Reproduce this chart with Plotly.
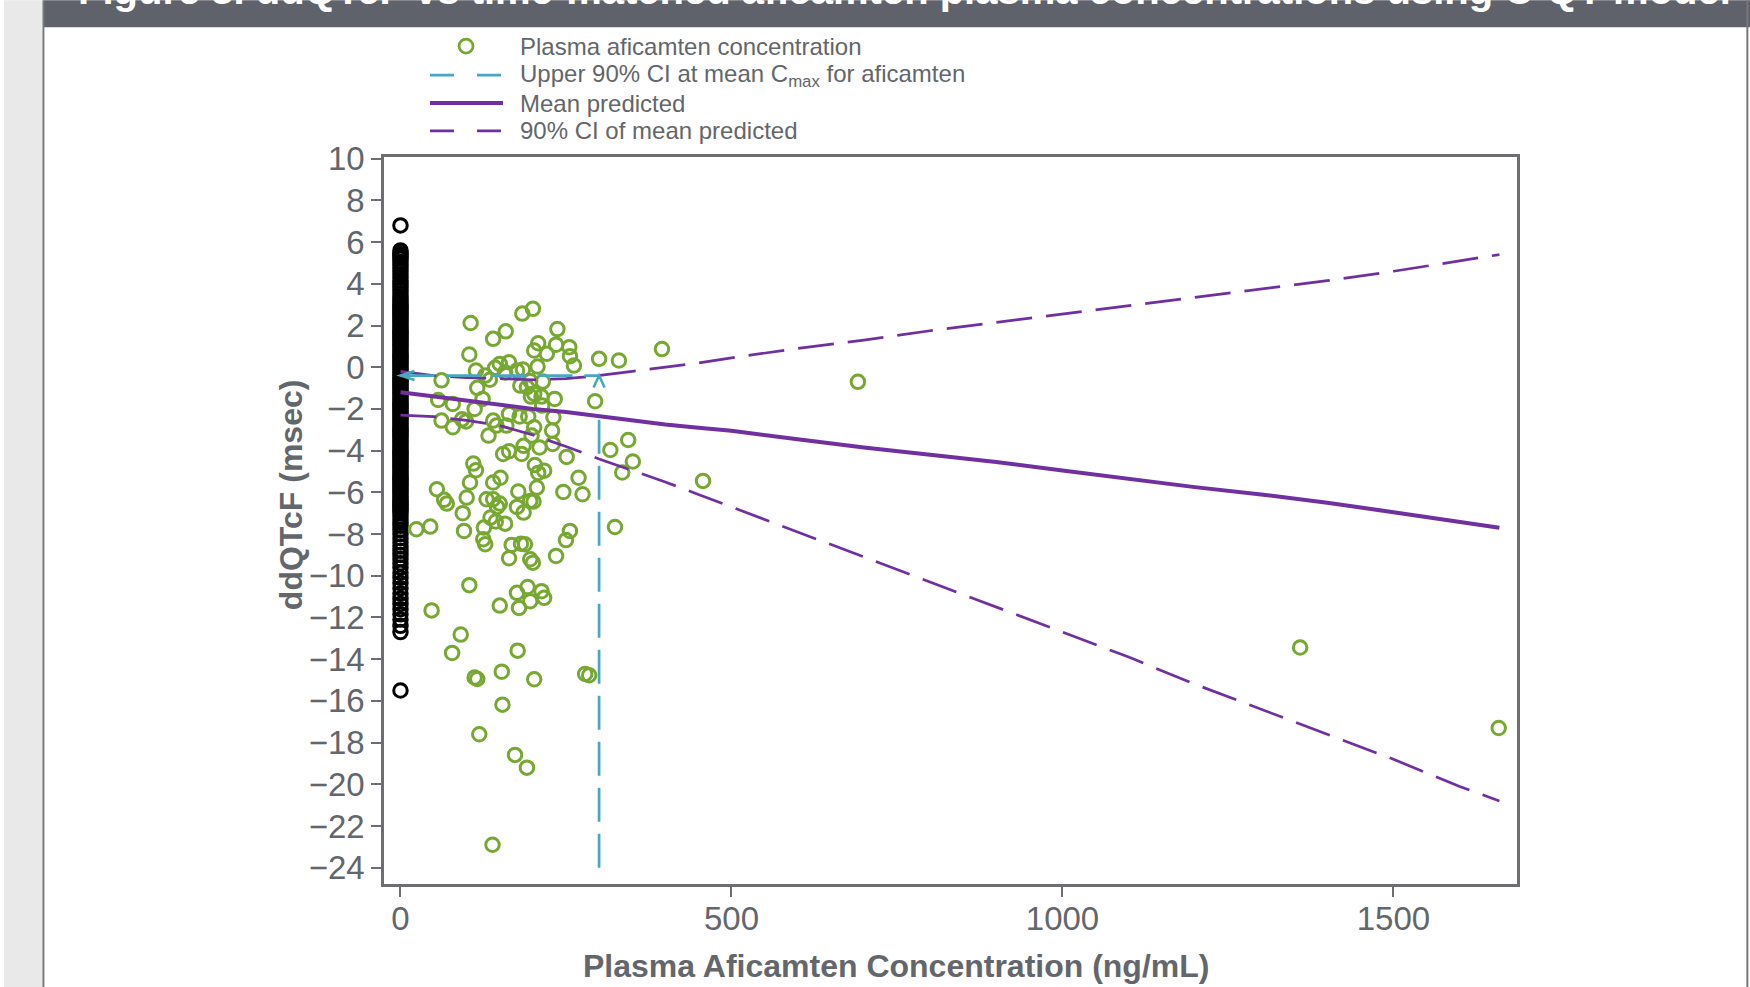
import plotly.graph_objects as go

# ---------------- data ----------------
placebo_y = [6.8, 5.6, 5.5, 5.4, 5.3, 5.2, 5.05, 4.9, 4.75, 4.6, 4.45, 4.3, 4.15, 4.0, 3.85, 3.7,
             3.55, 3.4, 3.3, 3.2, 3.1, 3.0,
             2.9, 2.8, 2.7, 2.6, 2.5, 2.4, 2.3, 2.2, 2.1, 2.0, 1.9, 1.8, 1.7, 1.6, 1.5, 1.4, 1.3,
             1.2, 1.1, 1.0, 0.9, 0.8, 0.7, 0.6, 0.5, 0.4, 0.3, 0.2, 0.1, 0.0, -0.1, -0.2, -0.3,
             -0.4, -0.5, -0.6, -0.7, -0.8, -0.9, -1.0, -1.1, -1.2, -1.3, -1.4, -1.5, -1.6, -1.7,
             -1.8, -1.9, -2.0, -2.1, -2.2, -2.3, -2.4, -2.5, -2.6, -2.7, -2.8, -2.9, -3.0, -3.1,
             -3.2, -3.3, -3.4, -3.5, -3.6, -3.7, -3.8, -3.9, -4.0, -4.1, -4.2, -4.3, -4.4, -4.5,
             -4.6, -4.7, -4.8, -4.9, -5.0, -5.1, -5.2, -5.3, -5.4, -5.5, -5.6, -5.7, -5.8, -5.9,
             -6.0, -6.1, -6.2, -6.3, -6.4, -6.5, -6.6, -6.7, -6.8, -6.9, -7.0,
             -7.15, -7.3, -7.45, -7.6, -7.8, -8.0, -8.2, -8.4, -8.6, -8.8, -9.0, -9.2, -9.4,
             -9.6, -9.85, -10.1, -10.35, -10.6, -10.85, -11.1, -11.35, -11.6, -11.85, -12.1,
             -12.4, -12.7, -15.5]

afi_conc = [106, 184, 200, 159, 140, 237, 104, 208, 202, 221, 235, 255, 256, 262, 300, 330, 395,
            114, 143, 128, 150, 164, 135, 158, 176, 185, 207, 196, 215, 181, 191, 62, 116, 124,
            57, 79, 112, 62, 79, 99, 93, 197, 202, 213, 214, 233, 294, 164, 180, 193, 231, 140,
            145, 160, 202, 229, 133, 198, 230, 186, 210, 155, 164, 183, 203, 251, 317, 344, 351,
            335, 457, 110, 114, 151, 140, 208, 217, 269, 105,
            55, 66, 70, 100, 94, 24, 45, 96, 130, 140, 150, 146, 178, 206, 176, 186, 196, 201,
            246, 275, 136, 144, 158, 126, 125, 128, 168, 182, 188, 164, 196, 200, 235, 250, 256,
            324, 104, 47, 150, 176, 192, 179, 196, 213, 217, 91, 78, 177, 112, 116, 153, 202,
            279, 285, 154, 119, 173, 191, 139, 691, 1359, 1659]
afi_ddqtcf = [2.12, 2.57, 2.8, 1.72, 1.36, 1.83, 0.61, 1.15, 0.8, 0.64, 1.08, 0.96, 0.53, 0.08,
              0.4, 0.32, 0.87, -0.16, -0.03, -0.4, 0.16, 0.24, -0.6, -0.25, -0.16, -0.11, 0.03,
              -0.66, -0.69, -0.88, -0.96, -0.63, -0.99, -1.52, -1.57, -1.76, -2.0, -2.56, -2.88,
              -2.6, -2.5, -1.41, -1.28, -1.41, -1.84, -1.52, -1.63, -2.24, -2.36, -2.36, -2.4,
              -2.56, -2.8, -2.8, -2.88, -3.04, -3.28, -3.28, -3.68, -3.77, -3.85, -4.16, -4.03,
              -4.16, -4.69, -4.3, -3.97, -3.49, -4.52, -5.05, -5.45, -4.62, -4.94, -5.3, -5.53,
              -5.07, -4.96, -5.3, -5.53,
              -5.85, -6.36, -6.54, -6.25, -7.0, -7.77, -7.64, -7.85, -6.33, -6.33, -6.54, -6.7,
              -5.96, -5.77, -6.7, -6.97, -6.41, -6.44, -5.98, -6.09, -7.21, -7.4, -7.5, -7.69,
              -8.25, -8.49, -8.52, -8.46, -8.49, -9.16, -9.21, -9.37, -9.05, -8.29, -7.85, -7.66,
              -10.45, -11.66, -11.43, -10.82, -10.54, -11.54, -11.22, -10.74, -11.06, -12.82,
              -13.7, -13.59, -14.88, -14.95, -14.6, -14.96, -14.71, -14.77, -16.18, -17.6,
              -18.59, -19.2, -22.9, -0.7, -13.44, -17.3]

pred_conc = [0, 25, 50, 100, 150, 200, 250, 300, 350, 400, 450, 500, 600, 700, 800, 900, 1000,
             1100, 1200, 1300, 1400, 1500, 1600, 1660]
pred_mean = [-1.2, -1.3, -1.4, -1.6, -1.8, -2.0, -2.15, -2.35, -2.55, -2.75, -2.9, -3.05, -3.45,
             -3.85, -4.2, -4.55, -4.95, -5.35, -5.75, -6.1, -6.5, -6.95, -7.4, -7.7]
pred_upper = [-0.2, -0.3, -0.4, -0.5, -0.55, -0.6, -0.55, -0.4, -0.2, 0.0, 0.2, 0.45, 0.9, 1.3,
              1.75, 2.15, 2.55, 2.95, 3.35, 3.75, 4.15, 4.6, 5.1, 5.4]
pred_lower = [-2.3, -2.32, -2.37, -2.55, -2.8, -3.25, -3.8, -4.4, -4.95, -5.5, -6.1, -6.7, -7.9,
              -9.1, -10.3, -11.5, -12.7, -13.9, -15.2, -16.4, -17.6, -18.8, -20.1, -20.8]

cmax_conc = 300
cmax_upper = -0.4
cmax_vline_y = [-24.0, -2.35]

x_ticks = [0, 500, 1000, 1500]
y_ticks = list(range(-24, 11, 2))

legend_labels = ["Plasma aficamten concentration",
                 "Upper 90% CI at mean C<sub>max</sub> for aficamten",
                 "Mean predicted",
                 "90% CI of mean predicted"]

title_text = "Figure 3. ddQTcF vs time-matched aficamten plasma concentrations using C-QT model"
x_title = "Plasma Aficamten Concentration (ng/mL)"
y_title = "ddQTcF (msec)"

# ---------------- styles ----------------
GREEN = "#76a832"
PURPLE = "#7030a0"
CYAN = "#48a7c2"
GREY_TXT = "#63666a"
AXIS = "#6d6e71"
FONT = "Liberation Sans, Arial, sans-serif"

W, H = 1750, 987
L, R, T, B = 384, 1516.7, 156.7, 884


def px(xp):
    return (xp - L) / (R - L)


def py(yp):
    return (B - yp) / (B - T)


fig = go.Figure()

MSIZE, MLW = 13.5, 3.0
fig.add_trace(go.Scatter(x=[0] * len(placebo_y), y=placebo_y, mode="markers",
                         marker=dict(symbol="circle-open", size=MSIZE, color="#000000",
                                     line=dict(width=MLW)),
                         showlegend=False, hoverinfo="skip"))
fig.add_trace(go.Scatter(x=afi_conc, y=afi_ddqtcf, mode="markers",
                         marker=dict(symbol="circle-open", size=MSIZE, color=GREEN,
                                     line=dict(width=MLW)),
                         showlegend=False))
fig.add_trace(go.Scatter(x=pred_conc, y=pred_upper, mode="lines",
                         line=dict(color=PURPLE, width=2.7, dash="36px,14px"), showlegend=False))
fig.add_trace(go.Scatter(x=pred_conc, y=pred_lower, mode="lines",
                         line=dict(color=PURPLE, width=2.7, dash="36px,14px"), showlegend=False))
fig.add_trace(go.Scatter(x=pred_conc, y=pred_mean, mode="lines",
                         line=dict(color=PURPLE, width=4), showlegend=False))
fig.add_trace(go.Scatter(x=[0, cmax_conc], y=[cmax_upper, cmax_upper], mode="lines",
                         line=dict(color=CYAN, width=2.7, dash="34px,12px"), showlegend=False))
fig.add_trace(go.Scatter(x=[cmax_conc, cmax_conc], y=cmax_vline_y, mode="lines",
                         line=dict(color=CYAN, width=2.7, dash="34px,12px"), showlegend=False))

annotations = []
# title (cut off at the top as in the reference)
annotations.append(dict(x=px(76), y=py(14), xref="paper", yref="paper", xanchor="left",
                        yanchor="bottom", text="<b>" + title_text + "</b>", showarrow=False,
                        font=dict(family=FONT, size=40, color="#ffffff")))

# axis titles (offset from the plot centre, as in the reference)
annotations.append(dict(x=px(896), y=py(966), xref="paper", yref="paper", xanchor="center",
                        yanchor="middle", text="<b>" + x_title + "</b>", showarrow=False,
                        font=dict(family=FONT, size=32, color=GREY_TXT)))
annotations.append(dict(x=px(291), y=py(494), xref="paper", yref="paper", xanchor="center",
                        yanchor="middle", text="<b>" + y_title + "</b>", showarrow=False,
                        textangle=-90, font=dict(family=FONT, size=32, color=GREY_TXT)))

# manual legend
rows_y = [45.8, 74.8, 102.7, 130.6]
for lab, ry in zip(legend_labels, rows_y):
    annotations.append(dict(x=px(518), y=py(ry), xref="paper", yref="paper", xanchor="left",
                            yanchor="middle", text=lab, showarrow=False,
                            font=dict(family=FONT, size=24, color=GREY_TXT)))

shapes = []
# arrow heads: anchored at the data points, sized in pixels
shapes.append(dict(type="path", xref="x", yref="y", xsizemode="pixel", ysizemode="pixel",
                   xanchor=0, yanchor=cmax_upper, path="M14,4.5 L0,0 L14,-4.5",
                   line=dict(color=CYAN, width=2.6)))
shapes.append(dict(type="path", xref="x", yref="y", xsizemode="pixel", ysizemode="pixel",
                   xanchor=cmax_conc, yanchor=cmax_upper, path="M-5.5,-12 L0,0 L5.5,-12",
                   line=dict(color=CYAN, width=2.6)))
# page decorations
shapes.append(dict(type="rect", xref="paper", yref="paper", x0=px(4), x1=px(42), y0=py(H),
                   y1=py(0), fillcolor="#e9e9e9", line=dict(width=0), layer="below"))
shapes.append(dict(type="line", xref="paper", yref="paper", x0=px(43.5), x1=px(43.5),
                   y0=py(H), y1=py(0), line=dict(color="#77787b", width=2)))
shapes.append(dict(type="line", xref="paper", yref="paper", x0=px(1747), x1=px(1747),
                   y0=py(H), y1=py(0), line=dict(color="#77787b", width=2)))
shapes.append(dict(type="rect", xref="paper", yref="paper", x0=px(44), x1=px(1750), y0=py(27),
                   y1=py(0), fillcolor="#5f626a", line=dict(width=0), layer="below"))
# legend symbols
shapes.append(dict(type="circle", xref="paper", yref="paper", xsizemode="pixel",
                   ysizemode="pixel", xanchor=px(466), yanchor=py(rows_y[0]), x0=-7, x1=7,
                   y0=-7, y1=7, line=dict(color=GREEN, width=2.8)))
shapes.append(dict(type="line", xref="paper", yref="paper", x0=px(430), x1=px(503),
                   y0=py(rows_y[1]), y1=py(rows_y[1]),
                   line=dict(color=CYAN, width=2.7, dash="24px,23px")))
shapes.append(dict(type="line", xref="paper", yref="paper", x0=px(430), x1=px(503),
                   y0=py(rows_y[2]), y1=py(rows_y[2]), line=dict(color=PURPLE, width=4)))
shapes.append(dict(type="line", xref="paper", yref="paper", x0=px(430), x1=px(503),
                   y0=py(rows_y[3]), y1=py(rows_y[3]),
                   line=dict(color=PURPLE, width=2.7, dash="24px,23px")))

fig.update_layout(
    width=W, height=H,
    margin=dict(l=L, r=W - R, t=T, b=H - B, pad=0),
    paper_bgcolor="#ffffff", plot_bgcolor="#ffffff",
    font=dict(family=FONT, color=GREY_TXT),
    annotations=annotations, shapes=shapes,
    showlegend=False,
)
fig.update_xaxes(range=[-24.9, 1686.6], tickvals=x_ticks, ticks="outside", ticklen=10,
                 tickwidth=2, tickcolor=AXIS, showline=True, linewidth=2.5, linecolor=AXIS,
                 mirror=True, showgrid=False, zeroline=False, ticklabelstandoff=-6,
                 tickfont=dict(family=FONT, size=33, color=GREY_TXT))
fig.update_yaxes(range=[-24.78, 10.08], tickvals=y_ticks, ticks="outside", ticklen=10,
                 tickwidth=2, tickcolor=AXIS, showline=True, linewidth=2.5, linecolor=AXIS,
                 mirror=True, showgrid=False, zeroline=False,
                 tickfont=dict(family=FONT, size=33, color=GREY_TXT))

fig.write_html("out.html", config={"displayModeBar": False},
               post_script="document.body.style.margin='0px';")
